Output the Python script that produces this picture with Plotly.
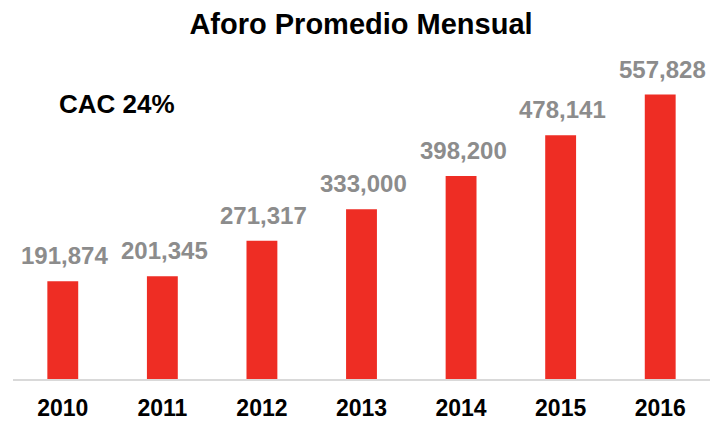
import plotly.graph_objects as go

years = ["2010", "2011", "2012", "2013", "2014", "2015", "2016"]
aforo = [191874, 201345, 271317, 333000, 398200, 478141, 557828]
labels = [f"{v:,}" for v in aforo]

FONT = "Liberation Sans, Arial, sans-serif"

fig = go.Figure()
fig.add_trace(go.Bar(
    x=years, y=aforo, width=0.31,
    marker=dict(color="#EE2D24", line=dict(width=0)),
    hoverinfo="skip",
))

for i, (v, t) in enumerate(zip(aforo, labels)):
    fig.add_annotation(
        x=i, y=v, xref="x", yref="y", text=f"<b>{t}</b>", showarrow=False,
        yanchor="bottom", yshift=10, xshift=2,
        font=dict(family=FONT, size=24, color="#8C8C8C"),
    )

fig.add_annotation(
    xref="paper", yref="paper", x=(57 - 13) / 697.0, y=1.0 + (73 - 104) / 310.0,
    text="<b>CAC 24%</b>", showarrow=False,
    xanchor="left", yanchor="middle",
    font=dict(family=FONT, size=26, color="#000000"),
)

fig.update_layout(
    width=710, height=421,
    margin=dict(l=13, r=0, t=73, b=38),
    paper_bgcolor="white", plot_bgcolor="white",
    showlegend=False,
    title=dict(
        text="<b>Aforo Promedio Mensual</b>", x=361 / 710, xanchor="center",
        y=1 - 23.5 / 421, yanchor="middle",
        font=dict(family=FONT, size=29, color="#000000"),
    ),
    xaxis=dict(
        type="category", range=[-0.5, 6.5],
        showline=True, linecolor="#D9D9D9", linewidth=1.5,
        showgrid=False, ticks="", zeroline=False,
        ticklabelstandoff=8,
        tickfont=dict(family=FONT, size=23, color="#000000"),
        tickprefix="<b>", ticksuffix="</b>",
    ),
    yaxis=dict(
        range=[0, 600000], visible=False, showgrid=False, zeroline=False,
    ),
)

fig.write_html(
    "out.html",
    config={"displayModeBar": False},
    post_script="document.body.style.margin='0';document.body.style.overflow='hidden';",
)
